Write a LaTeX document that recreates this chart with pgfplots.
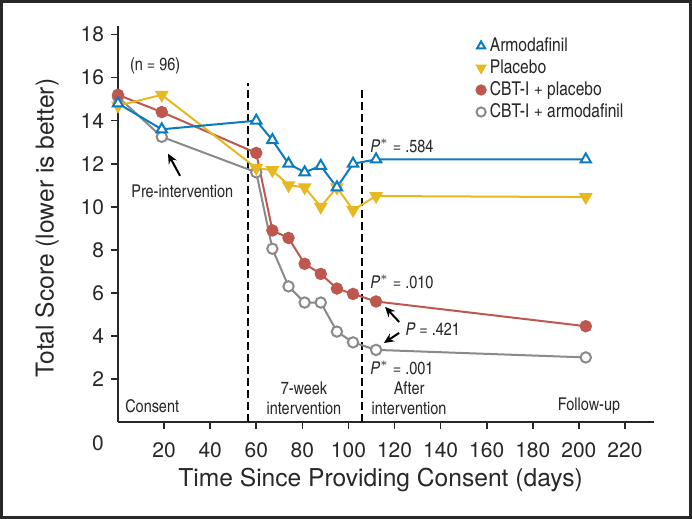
\documentclass[border=0pt]{standalone}
\usepackage{fontspec}
\setmainfont{TeX Gyre Heros}
\newfontfamily\cond{texgyreheroscn}[Extension=.otf, UprightFont=*-regular,
  ItalicFont=*-italic, BoldFont=*-bold, BoldItalicFont=*-bolditalic]
\usepackage{pgfplots}
\pgfplotsset{compat=1.18}
\usetikzlibrary{arrows.meta}

\definecolor{cblue}{RGB}{10,123,192}
\definecolor{cyel}{RGB}{232,184,32}
\definecolor{cred}{RGB}{190,88,78}
\definecolor{cgray}{RGB}{138,138,138}
\definecolor{frame}{RGB}{40,40,40}

% day, total score
\pgfplotstableread{
x y
0   14.8
19  13.6
60  14.0
67  13.1
74  12.0
81  11.6
88  11.9
95  10.9
102 12.0
112 12.2
203 12.2
}\armo
\pgfplotstableread{
x y
0   14.7
19  15.2
60  11.8
67  11.7
74  11.0
81  10.9
88  10.0
95  10.9
102 9.85
112 10.5
203 10.45
}\plac
\pgfplotstableread{
x y
0   15.2
19  14.4
60  12.5
67  8.9
74  8.55
81  7.35
88  6.88
95  6.2
102 5.95
112 5.6
203 4.45
}\cbtp
\pgfplotstableread{
x y
0   15.1
19  13.25
60  11.6
67  8.05
74  6.3
81  5.55
88  5.55
95  4.2
102 3.7
112 3.35
203 3.0
}\cbta

\newcommand\labfont{\fontsize{12.3}{14}\selectfont}
\newcommand\tickfont{\fontsize{10.5}{12}\selectfont}

\tikzset{
  ann/.style   = {font=\cond\fontsize{8.8}{10}\selectfont, inner sep=0pt, text=frame},
  pointer/.style = {-{Stealth[length=5pt,width=4.5pt]}, line width=1pt},
  vdash/.style = {line width=1pt, dash pattern=on 4pt off 2pt},
}

\begin{document}
\begin{tikzpicture}
\useasboundingbox (0,0) rectangle (346pt,259.5pt);
\fill[white] (0,0) rectangle (346pt,259.5pt);
\draw[frame, line width=1.6pt] (0.8pt,0.8pt) rectangle (345.2pt,258.7pt);

\begin{axis}[
    at={(59pt,48.5pt)}, anchor=south west,
    scale only axis, width=268pt, height=198pt,
    xmin=0, xmax=232.6, ymin=0, ymax=18.4,
    axis x line*=bottom, axis y line*=left,
    axis line style={frame, line width=1pt, -},
    xtick={20,40,...,220}, ytick={2,4,...,18},
    extra x ticks={0},
    extra x tick style={major tick length=0pt, xticklabel style={xshift=-10pt}},
    tick align=outside, major tick length=3.5pt,
    tick style={frame, line width=0.8pt},
    xticklabel style={font=\tickfont, text=frame, yshift=-3.5pt},
    yticklabel style={font=\tickfont, text=frame},
    /pgf/number format/assume math mode=true,
    xlabel={Time Since Providing Consent (days)},
    ylabel={Total Score (lower is better)},
    every axis x label/.style={at={(axis description cs:0.49,-0.146)}, anchor=center,
      font=\labfont, text=frame},
    every axis y label/.style={at={(axis description cs:-0.1325,0.49)}, anchor=center,
      rotate=90, font=\labfont, text=frame},
    clip=false,
    reverse legend,
    legend style={at={(axis cs:155.4,18.0)}, anchor=north west, draw=none, fill=none,
      font=\cond\fontsize{9.5}{11}\selectfont, row sep=0pt, inner sep=0pt,
      nodes={inner sep=1pt, text height=7pt, text depth=2pt}, text=frame,
      /tikz/every odd column/.append style={column sep=1.1pt}},
    legend cell align=left,
    legend image code/.code={\draw[#1, only marks, mark size=2.3pt] plot coordinates {(0pt,0pt)};},
  ]

\draw[vdash] (axis cs:56.5,0) -- (axis cs:56.5,15.75);
\draw[vdash] (axis cs:106,0) -- (axis cs:106,15.6);

\addplot[cgray, line width=1pt, mark=*, mark size=2.6pt,
  mark options={fill=white, draw=cgray, line width=1pt}] table {\cbta};
\addlegendentry{CBT-I + armodafinil}
\addplot[cred, line width=1pt, mark=*, mark size=2.6pt,
  mark options={fill=cred, draw=cred}] table {\cbtp};
\addlegendentry{CBT-I + placebo}
\addplot[cyel, line width=1pt, mark=triangle*, mark size=3pt,
  mark options={fill=cyel, draw=cyel, rotate=180}] table {\plac};
\addlegendentry{Placebo}
\addplot[cblue, line width=1pt, mark=triangle*, mark size=3pt,
  mark options={fill=white, draw=cblue, line width=1pt}] table {\armo};
\addlegendentry{Armodafinil}

\node[ann] at (axis cs:16.1,16.56) {(n = 96)};
\node[ann] at (axis cs:27.9,10.7) {Pre-intervention};
\draw[pointer] (axis cs:26.9,11.44) -- (axis cs:21.7,12.47);

\node[ann, anchor=west] at (axis cs:3,0.74) {Consent};
\node[ann, align=center] at (axis cs:80.7,1.12) {7-week\\intervention};
\node[ann, align=center] at (axis cs:126.3,1.12) {After\\intervention};
\node[ann] at (axis cs:204.4,0.74) {Follow-up};

\node[ann, anchor=west] at (axis cs:109.3,12.84) {\textit{P}$^{*}$ = .584};
\node[ann, anchor=west] at (axis cs:109.3,6.51) {\textit{P}$^{*}$ = .010};
\node[ann, anchor=west] at (axis cs:124.6,4.33) {\textit{P} = .421};
\node[ann, anchor=west] at (axis cs:109.3,2.51) {\textit{P}$^{*}$ = .001};
\draw[pointer] (axis cs:122,4.65) -- (axis cs:115.9,5.35);
\draw[pointer] (axis cs:122,4.14) -- (axis cs:115.4,3.67);

\end{axis}
\end{tikzpicture}
\end{document}
